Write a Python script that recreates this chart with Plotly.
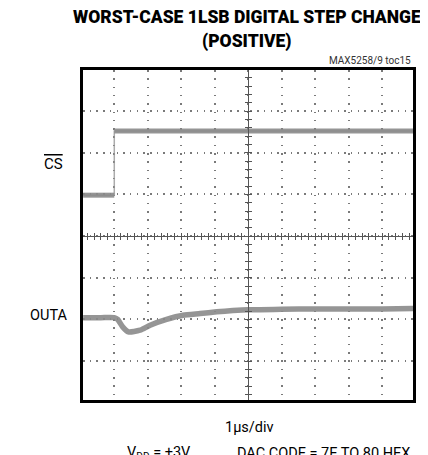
import plotly.graph_objects as go

# ---- data (oscilloscope divisions: x = time div, y = vertical div) ----
cs_time = [0.07, 1.0, 1.0, 9.92]
cs_level = [4.98, 4.98, 6.52, 6.52]

outa_time = [0.07, 0.6, 1.0, 1.1, 1.25, 1.42, 1.77, 2.07, 2.56, 3.05, 3.56, 4.06, 4.54, 5.0, 6.0, 7.0, 8.0, 9.0, 9.92]
outa_level = [2.04, 2.04, 2.04, 2.0, 1.82, 1.70, 1.74, 1.86, 2.0, 2.10, 2.14, 2.18, 2.21, 2.23, 2.24, 2.25, 2.25, 2.25, 2.26]

title_lines = ["WORST-CASE 1LSB DIGITAL STEP CHANGE", "(POSITIVE)"]
chart_id = "MAX5258/9 toc15"
x_label = "1µs/div"
cond_left = "V<sub>DD</sub> = +3V"
cond_right = "DAC CODE = 7E TO 80 HEX"

XR = [0.066, 9.917]
YR = [0.064, 7.984]
XC, YC = 5, 4

FONT = "Roboto, Liberation Sans, sans-serif"
TRACE = "rgba(138,138,138,0.9)"

fig = go.Figure()

# CS trace: thin edge + thick levels
fig.add_trace(go.Scatter(x=cs_time, y=cs_level, mode="lines",
                         line=dict(color="rgba(150,150,150,0.8)", width=1.5),
                         hoverinfo="skip", showlegend=False))
fig.add_trace(go.Scatter(x=cs_time[:2] + [None] + cs_time[2:],
                         y=cs_level[:2] + [None] + cs_level[2:], mode="lines",
                         line=dict(color=TRACE, width=5), connectgaps=False,
                         hoverinfo="skip", showlegend=False))
# OUTA trace
fig.add_trace(go.Scatter(x=outa_time, y=outa_level, mode="lines",
                         line=dict(color=TRACE, width=5.5, shape="spline", smoothing=0.6),
                         hoverinfo="skip", showlegend=False))

# invisible traces to create center-axis overlays
for xa, ya in [("x2", "y"), ("x3", "y"), ("x", "y2"), ("x", "y3")]:
    fig.add_trace(go.Scatter(x=[XC], y=[YC], xaxis=xa, yaxis=ya, mode="markers",
                             marker=dict(opacity=0), hoverinfo="skip", showlegend=False))

grid_col = "#7a7a7a"
# page body has an 8px margin: figure spans page x 8..428, y 8..455
fig.update_layout(
    width=420, height=447,
    margin=dict(l=75, r=15, t=62, b=55),
    paper_bgcolor="white", plot_bgcolor="white",
    showlegend=False,
    xaxis=dict(range=XR, tick0=0, dtick=1, showgrid=True, gridcolor=grid_col,
               gridwidth=1.5, griddash="1.5px,6.8px", showticklabels=False,
               ticks="", zeroline=False, showline=True, mirror=True,
               linecolor="black", linewidth=3),
    yaxis=dict(range=YR, tick0=0, dtick=1, showgrid=True, gridcolor=grid_col,
               gridwidth=1.5, griddash="1.5px,5.2px", showticklabels=False,
               ticks="", zeroline=False, showline=True, mirror=True,
               linecolor="black", linewidth=3),
)
cross_col = "#555555"
pos_y = (YC - YR[0]) / (YR[1] - YR[0])
pos_x = (XC - XR[0]) / (XR[1] - XR[0])
for name, tk in [("xaxis2", "outside"), ("xaxis3", "inside")]:
    fig.update_layout({name: dict(range=XR, overlaying="x", anchor="free", position=pos_y,
                                  showline=True, linecolor=cross_col, linewidth=1.2,
                                  ticks=tk, ticklen=3, tickwidth=1.2, tickcolor=cross_col,
                                  tick0=0, dtick=0.2, showticklabels=False,
                                  showgrid=False, zeroline=False)})
for name, tk in [("yaxis2", "outside"), ("yaxis3", "inside")]:
    fig.update_layout({name: dict(range=YR, overlaying="y", anchor="free", position=pos_x,
                                  showline=True, linecolor=cross_col, linewidth=1.2,
                                  ticks=tk, ticklen=3, tickwidth=1.2, tickcolor=cross_col,
                                  tick0=0, dtick=0.2, showticklabels=False,
                                  showgrid=False, zeroline=False)})

# page-pixel -> paper fraction (plot area = page x 83..413, y 70..400)
def px(x):
    return (x - 83) / 330.0

def py(y):
    return (400 - y) / 330.0

ann = []
ann.append(dict(text=title_lines[0], x=px(247), y=py(17),
                font=dict(family=FONT, size=17.5, color="black", weight=900)))
ann.append(dict(text=title_lines[1], x=px(247), y=py(41),
                font=dict(family=FONT, size=17.5, color="black", weight=900)))
ann.append(dict(text=chart_id, x=px(413), y=py(61), xanchor="right",
                font=dict(family=FONT, size=10, color="#333")))
ann.append(dict(text="CS", x=px(53), y=py(164),
                font=dict(family=FONT, size=15, color="black", lineposition="over")))
ann.append(dict(text="OUTA", x=px(48), y=py(315),
                font=dict(family=FONT, size=14.5, color="black")))
ann.append(dict(text=x_label, x=px(249), y=py(427),
                font=dict(family=FONT, size=14.5, color="black")))
ann.append(dict(text=cond_left, x=px(159), y=py(453),
                font=dict(family=FONT, size=14.5, color="black")))
ann.append(dict(text=cond_right, x=px(323), y=py(453),
                font=dict(family=FONT, size=14.5, color="black")))
for a in ann:
    a.update(xref="paper", yref="paper", showarrow=False)
    a.setdefault("xanchor", "center")
    a["yanchor"] = "middle"
fig.update_layout(annotations=ann)

fig.write_html("out.html")
